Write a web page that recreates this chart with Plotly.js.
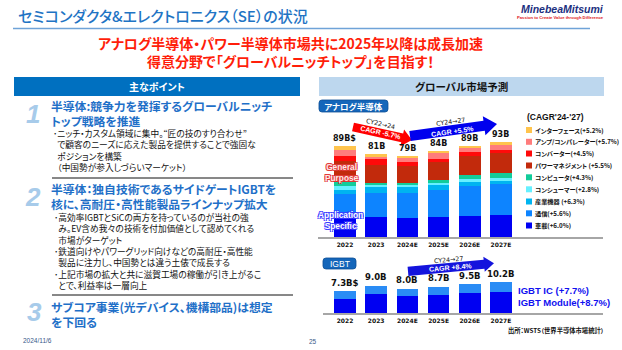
<!DOCTYPE html>
<html><head><meta charset="utf-8">
<script src="https://cdn.plot.ly/plotly-3.0.1.min.js"></script>
<style>
html,body{margin:0;padding:0;background:#fff;}
#chart{width:622px;height:350px;}
text{font-feature-settings:"palt" 1;}
</style>
</head><body><div id="chart"></div>
<script>
// ---------------- DATA ----------------
const years = ['2022','2023','2024E','2025E','2026E','2027E'];
const analogTotals = [89, 81, 79, 84, 89, 93];
const analogTotalLabels = ['89B$','81B','79B','84B','89B','93B'];
// analog segments (B$), bottom to top
const automotive = [19.3, 19.4, 18.4, 19.8, 21.0, 21.7];
const communications = [22.5, 23.3, 25.0, 25.7, 28.8, 30.2];
const industrial = [4.5, 6.5, 5.2, 4.8, 3.9, 3.2];
const consumer = [3.2, 1.7, 1.7, 2.2, 3.3, 2.2];
const computer = [4.2, 2.2, 2.9, 3.2, 3.3, 4.9];
const powerManagement = [20.2, 17.2, 16.5, 17.0, 18.3, 19.5];
const converter = [5.5, 5.5, 3.2, 3.2, 3.9, 3.2];
const ampComparator = [5.5, 2.6, 3.9, 5.5, 3.9, 4.9];
const interfaceIC = [4.2, 2.6, 2.2, 2.6, 2.6, 3.2];
const analogNames = ['車載(+6.0%)','通信(+5.6%)','産業機器 (+6.3%)','コンシューマー(+2.8%)','コンピュータ(+4.3%)','パワーマネジメント (+5.5%)','コンバーター(+4.5%)','アンプ/コンパレーター(+5.7%)','インターフェース(+5.2%)'];
const analogColors = ['#0000F2','#0D84FF','#00B4F0','#66F0FF','#12CC9A','#C22A0C','#FF0A0A','#FF7C7C','#FFC44D'];
// IGBT (B$)
const igbtTotals = [7.3, 9.0, 8.0, 8.7, 9.5, 10.2];
const igbtTotalLabels = ['7.3B$','9.0B','8.0B','8.7B','9.5B','10.2B'];
const igbtModule = [4.6, 6.4, 5.8, 6.0, 6.5, 7.1];
const igbtIC = [2.7, 2.6, 2.2, 2.7, 3.0, 3.1];
const igbtNames = ['IGBT Module(+8.7%)','IGBT IC (+7.7%)'];
const igbtColors = ['#0000F2','#2A8CF5'];

// ---------------- HELPERS ----------------
const W = 622, H = 350;
const PX = x => x / W, PY = y => 1 - y / H;
const JP = '"Noto Sans CJK JP", "Noto Sans", sans-serif';
const LAT = '"Liberation Sans", Arial, sans-serif';
const DJ = '"DejaVu Sans", sans-serif';
function T(text, x, y, o = {}) {
  return {xref:'paper', yref:'paper', x:PX(x), y:PY(y), text, showarrow:false,
    xanchor:o.xa || 'left', yanchor:o.ya || 'middle', textangle:o.ang || 0, borderpad:0, align:o.al || 'left',
    font:{family:o.f || JP, size:o.s || 9, color:o.c || '#111', weight:o.w || 'normal',
          style:o.st || 'normal', shadow:o.sh || 'none'}};
}
function arrowPath(x1, y1, x2, y2, bw, hl, hw) {
  const dx = x2 - x1, dy = y2 - y1, L = Math.hypot(dx, dy);
  const ux = dx / L, uy = dy / L, nx = -uy, ny = ux;
  const bx = x2 - ux * hl, by = y2 - uy * hl;
  const pts = [[x1 + nx*bw, y1 + ny*bw], [bx + nx*bw, by + ny*bw], [bx + nx*hw, by + ny*hw], [x2, y2],
               [bx - nx*hw, by - ny*hw], [bx - nx*bw, by - ny*bw], [x1 - nx*bw, y1 - ny*bw]];
  return 'M ' + pts.map(p => PX(p[0]).toFixed(5) + ',' + PY(p[1]).toFixed(5)).join(' L ') + ' Z';
}
function roundRect(x0, y0, x1, y1, r) {
  const p = (x, y) => PX(x).toFixed(5) + ',' + PY(y).toFixed(5);
  return `M ${p(x0 + r, y0)} L ${p(x1 - r, y0)} Q ${p(x1, y0)} ${p(x1, y0 + r)} L ${p(x1, y1 - r)} Q ${p(x1, y1)} ${p(x1 - r, y1)} L ${p(x0 + r, y1)} Q ${p(x0, y1)} ${p(x0, y1 - r)} L ${p(x0, y0 + r)} Q ${p(x0, y0)} ${p(x0 + r, y0)} Z`;
}
function rect(x0, y0, x1, y1, fill) {
  return {type:'rect', xref:'paper', yref:'paper', x0:PX(x0), x1:PX(x1), y0:PY(y1), y1:PY(y0), fillcolor:fill, line:{width:0}, layer:'below'};
}
function hline(x0, x1, y, color, w) {
  return {type:'line', xref:'paper', yref:'paper', x0:PX(x0), x1:PX(x1), y0:PY(y), y1:PY(y), line:{color, width:w}};
}
const BUL = '･';
const IND = '\u2002';

// ---------------- TRACES ----------------
const analogSeries = [automotive, communications, industrial, consumer, computer, powerManagement, converter, ampComparator, interfaceIC];
const traces = [];
analogSeries.forEach((vals, i) => traces.push({type:'bar', x:years, y:vals, name:analogNames[i],
  marker:{color:analogColors[i], line:{width:0}}, xaxis:'x', yaxis:'y', hoverinfo:'skip', showlegend:false}));
[igbtModule, igbtIC].forEach((vals, i) => traces.push({type:'bar', x:years, y:vals, name:igbtNames[i],
  marker:{color:igbtColors[i], line:{width:0}}, xaxis:'x2', yaxis:'y2', hoverinfo:'skip', showlegend:false}));

// ---------------- ANNOTATIONS ----------------
const anns = [];
// header
anns.push(T('セミコンダクタ&エレクトロニクス（SE）の状況', 17, 16, {s:15, c:'#1F74C4', w:500}));
anns.push(T('<i>MinebeaMitsumi</i>', 605, 9.3, {xa:'right', f:LAT, s:10.5, c:'#1B2F80', w:'bold'}));
anns.push(T('Passion to Create Value through Difference', 605, 17.8, {xa:'right', f:LAT, s:4.2, c:'#E0201A', w:'bold'}));
anns.push(T('アナログ半導体・パワー半導体市場共に2025年以降は成長加速', 290, 42.5, {xa:'center', s:14, c:'#FF1E0A', w:'bold'}));
anns.push(T('得意分野で「グローバルニッチトップ」を目指す！', 290, 61, {xa:'center', s:14, c:'#FF1E0A', w:'bold'}));
// left panel
anns.push(T('主なポイント', 157, 86.5, {xa:'center', s:10, c:'#FFFFFF', w:'bold'}));
const numStyle = {xa:'center', f:LAT, s:26, c:'#A7CBEA', w:'bold', st:'italic'};
anns.push(T('1', 33, 114, numStyle));
anns.push(T('2', 33, 197, numStyle));
anns.push(T('3', 34, 312, numStyle));
const headStyle = {s:11.8, c:'#1F70C8', w:'bold'};
anns.push(T('半導体:競争力を発揮するグローバルニッチ<br>トップ戦略を推進', 50, 112.8, headStyle));
anns.push(T('半導体：独自技術であるサイドゲートIGBTを<br>核に、高耐圧・高性能製品ラインナップ拡大', 50, 196.3, headStyle));
anns.push(T('サブコア事業(光デバイス、機構部品)は想定<br>を下回る', 50, 314, headStyle));
// section 1 body
const body1 = [
  BUL + 'ニッチ・カスタム領域に集中。“匠の技のすり合わせ”',
  IND + 'で顧客のニーズに応えた製品を提供することで強固な',
  IND + 'ポジションを構築',
  IND + '（中国勢が参入しづらいマーケット）'
];
anns.push(T(body1.join('<br>'), 52, 150.3, {s:8.7}));
// section 2 body
const body2 = [
  BUL + '高効率IGBTとSiCの両方を持っているのが当社の強',
  IND + 'み。EV含め我々の技術を付加価値として認めてくれる',
  IND + '市場がターゲット',
  BUL + '鉄道向けやパワーグリッド向けなどの高耐圧・高性能',
  IND + '製品に注力し、中国勢とは違う土俵で成長する',
  BUL + '上記市場の拡大と共に滋賀工場の稼働が引き上がるこ',
  IND + 'とで、利益率は一層向上'
];
anns.push(T(body2.join('<br>'), 52.5, 251.5, {s:8.7}));
anns.push(T('2024/11/6', 22, 340, {f:LAT, s:6.5, c:'#3A5A8A'}));
anns.push(T('25', 313, 341, {xa:'center', f:LAT, s:6.5, c:'#3A5A8A'}));
// right panel
anns.push(T('グローバル市場予測', 461, 86.5, {xa:'center', s:10.5, c:'#111', w:'bold'}));
anns.push(T('アナログ半導体', 353.5, 106, {xa:'center', s:8.5, c:'#FFFFFF', w:'bold'}));
anns.push(T('IGBT', 339.5, 263.5, {xa:'center', f:LAT, s:8.5, c:'#FFFFFF'}));
// arrow texts
anns.push(T('CY22→24', 380, 123.5, {xa:'center', f:DJ, s:6.3, c:'#111', ang:13}));
anns.push(T('CAGR -5.7%', 381, 132.5, {xa:'center', f:LAT, s:7, c:'#FFFFFF', w:'bold', ang:12.5}));
anns.push(T('CY24→27', 450, 122, {xa:'center', f:DJ, s:6.3, c:'#111', ang:-8}));
anns.push(T('CAGR +5.5%', 452, 131.5, {xa:'center', f:LAT, s:7, c:'#FFFFFF', w:'bold', ang:-8}));
anns.push(T('CY24→27', 448, 259.5, {xa:'center', f:DJ, s:6.3, c:'#111', ang:-5}));
anns.push(T('CAGR +8.4%', 450, 267.6, {xa:'center', f:LAT, s:7, c:'#FFFFFF', w:'bold', ang:-5}));
// overlay labels on 2022 bar
const redOutline = '-1px -1px 0 #E23A3A, 1px -1px 0 #E23A3A, -1px 1px 0 #E23A3A, 1px 1px 0 #E23A3A';
const blueOutline = '-1px -1px 0 #3A3AFF, 1px -1px 0 #3A3AFF, -1px 1px 0 #3A3AFF, 1px 1px 0 #3A3AFF';
anns.push(T('General<br>Purpose', 341.5, 172, {xa:'center', al:'center', f:LAT, s:8.3, c:'#FFE8E8', w:'bold', sh:redOutline}));
anns.push(T('Application<br>Specific', 340.5, 220.8, {xa:'center', al:'center', f:LAT, s:8.3, c:'#FFFFFF', w:'bold', sh:blueOutline}));
// total labels (x given as category index)
years.forEach((yr, i) => {
  anns.push({xref:'x', yref:'y', x:i, y:analogTotals[i], text:analogTotalLabels[i], showarrow:false,
    yanchor:'bottom', yshift:1, font:{family:DJ, size:8, color:'#111', weight:'bold'}});
  anns.push({xref:'x2', yref:'y2', x:i, y:igbtTotals[i], text:igbtTotalLabels[i], showarrow:false,
    yanchor:'bottom', yshift:1.5, font:{family:DJ, size:8.5, color:'#111', weight:'bold'}});
});
// legend
anns.push(T("(CAGR'24-'27)", 526, 117, {f:LAT, s:8.5, c:'#111', w:'bold'}));
const legendRows = [130, 141.8, 153.5, 165.5, 177.3, 189.3, 201.5, 213.3, 225.5];
const shapes = [];
for (let k = 0; k < 9; k++) {
  const idx = 8 - k, y = legendRows[k];
  shapes.push(rect(526, y - 3, 532, y + 3, analogColors[idx]));
  anns.push(T(analogNames[idx], 534, y, {s:6.2, c:'#111', w:'bold'}));
}
anns.push(T(igbtNames[1] + '<br>' + igbtNames[0], 517, 296.5, {f:LAT, s:9.5, c:'#1010F0', w:'bold'}));
anns.push(T('出所：WSTS（世界半導体市場統計）', 605, 330, {xa:'right', s:6.3, c:'#111', w:'bold'}));

// ---------------- SHAPES ----------------
shapes.push(hline(13, 590, 28.5, '#6FA3D8', 1.3));
shapes.push(rect(14, 77, 300, 96, '#0070C0'));
shapes.push(rect(319, 77, 604, 96, '#BDD7EE'));
shapes.push(hline(52, 293, 178, '#111', 1));
shapes.push(hline(52, 293, 295, '#111', 1));
shapes.push({type:'path', xref:'paper', yref:'paper', path:roundRect(319, 100, 388, 112, 3), fillcolor:'#1466BA', line:{color:'#0D4F96', width:0.8}});
shapes.push({type:'path', xref:'paper', yref:'paper', path:roundRect(323, 258, 356, 269, 3), fillcolor:'#1466BA', line:{color:'#0D4F96', width:0.8}});
shapes.push({type:'path', xref:'paper', yref:'paper', path:arrowPath(353, 127, 412, 140, 4.4, 10, 8.5), fillcolor:'#FF0000', line:{width:0}});
shapes.push({type:'path', xref:'paper', yref:'paper', path:arrowPath(410, 136, 497, 124, 5, 13, 9.5), fillcolor:'#0000EE', line:{width:0}});
shapes.push({type:'path', xref:'paper', yref:'paper', path:arrowPath(408, 271.3, 494, 263.3, 4.6, 10, 7.5), fillcolor:'#1414DD', line:{width:0}});

// ---------------- LAYOUT ----------------
const tickFont = {family:DJ, size:6, color:'#111', weight:'bold'};
const layout = {
  width:W, height:H, margin:{l:0, r:0, t:0, b:0}, paper_bgcolor:'#fff', plot_bgcolor:'rgba(0,0,0,0)',
  barmode:'stack', bargap:0.305, showlegend:false,
  xaxis:{domain:[318/W, 603/W], range:[-0.865, 8.27], type:'category', showline:true, linecolor:'#A6A6A6', linewidth:2,
         ticks:'', tickfont:tickFont, showgrid:false, zeroline:false, fixedrange:true, anchor:'y'},
  yaxis:{domain:[1 - 237.3/H, 1 - 134.3/H], range:[0, 100], visible:false, fixedrange:true},
  xaxis2:{domain:[323/W, 603/W], range:[-0.705, 8.27], type:'category', showline:true, linecolor:'#A6A6A6', linewidth:2,
          ticks:'', tickfont:tickFont, showgrid:false, zeroline:false, fixedrange:true, anchor:'y2'},
  yaxis2:{domain:[1 - 313.3/H, 1 - 276.7/H], range:[0, 12], visible:false, fixedrange:true},
  annotations:anns, shapes:shapes
};
Plotly.newPlot('chart', traces, layout, {displayModeBar:false, staticPlot:true});
</script>
</body></html>
